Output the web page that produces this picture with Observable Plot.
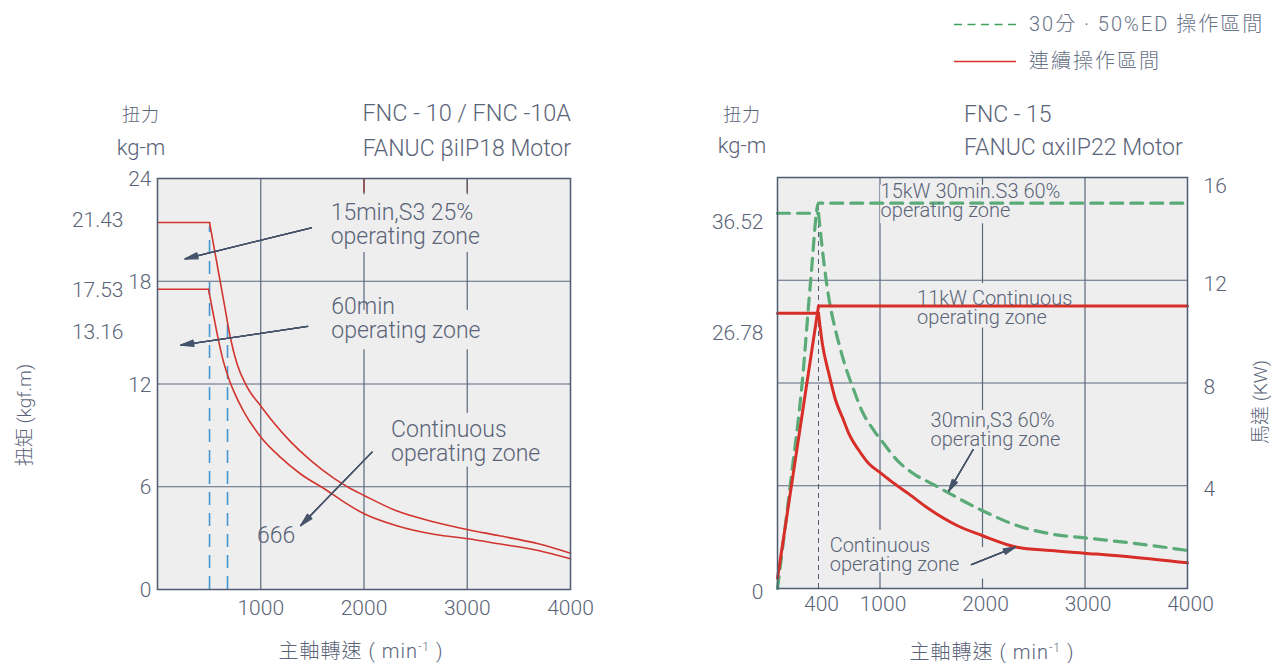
<!DOCTYPE html>
<html>
<head>
<meta charset="utf-8">
<script src="https://cdn.jsdelivr.net/npm/d3@7"></script>
<script src="https://cdn.jsdelivr.net/npm/@observablehq/plot@0.6"></script>
<style>
  body { margin: 0; background: #ffffff; }
  #wrap { position: relative; width: 1271px; height: 663px; overflow: hidden;
          font-family: Roboto, "Noto Sans CJK TC", sans-serif; font-weight: 300; color: #5a6478; }
  .t { position: absolute; white-space: nowrap; line-height: 1; }
  .t sup { font-size: 0.6em; vertical-align: 0.55em; line-height: 0; }
  .plot { position: absolute; }
</style>
</head>
<body>
<div id="wrap"></div>
<script>
// ---------------- DATA ----------------
// Left chart: FNC-10 / FNC-10A, FANUC βiIP18 (torque kg-m vs rpm)
const left15Rpm    = [0, 504, 559, 608, 656, 705, 770, 866, 1002, 1124, 1286, 1480, 1706, 1868, 2001, 2308, 2691, 3009, 3302, 3688, 4000];
const left15Torque = [21.43, 21.43, 19.6, 17.96, 16.36, 14.73, 13.18, 11.85, 10.7, 9.75, 8.65, 7.55, 6.5, 5.9, 5.49, 4.61, 3.93, 3.49, 3.15, 2.67, 2.12];
const left60Rpm    = [0, 494, 543, 591, 640, 688, 737, 834, 1002, 1189, 1383, 1642, 1771, 2001, 2308, 2691, 3009, 3302, 3688, 4000];
const left60Torque = [17.53, 17.53, 16.0, 14.55, 13.28, 12.35, 11.6, 10.4, 8.89, 7.73, 6.76, 5.78, 5.25, 4.42, 3.74, 3.21, 2.96, 2.67, 2.28, 1.79];
const leftMarkerRpm = [504, 678];          // blue dashed verticals
const leftMarkerTop = [21.2, 15.7];
const leftXTicks = [1000, 2000, 3000, 4000];
const leftYTicks = [0, 6, 12, 18, 24];
const leftExtraTickLabels = ["21.43", "17.53", "13.16"];

// Right chart: FNC-15, FANUC αxiIP22 (torque kg-m on left axis, power kW on right axis)
const rightTorqueMax = 40;  // left axis top (kg-m)
const rightPowerMax = 16;   // right axis top (kW)
const rightGreenTorqueRpm = [0, 400, 454, 502, 551, 600, 665, 746, 828, 941, 1038, 1168, 1330, 1525, 1996, 2337, 2662, 2995, 3472, 4000];
const rightGreenTorque    = [36.52, 36.52, 31.6, 28.2, 25.76, 23.81, 21.53, 19.27, 17.2, 15.37, 14.08, 12.46, 11.16, 10.1, 7.59, 6.13, 5.32, 4.93, 4.41, 3.7];
const rightRedTorqueRpm   = [0, 400, 438, 502, 568, 633, 697, 795, 892, 996, 1120, 1281, 1476, 1752, 1996, 2337, 2662, 2995, 3472, 4000];
const rightRedTorque      = [26.78, 26.78, 23.8, 20.88, 18.29, 16.66, 15.05, 13.43, 12.14, 11.32, 10.35, 9.21, 7.76, 6.13, 5.16, 4.02, 3.7, 3.44, 3.05, 2.5];
const rightGreenPowerRpm  = [0, 130, 243, 324, 400, 4000];
const rightGreenPower     = [0, 4.2, 8.1, 12.0, 15, 15];
const rightRedPowerRpm    = [0, 400, 4000];
const rightRedPower       = [0.4, 11, 11];
const rightBaseRpm = 400;
const rightXTicks = [400, 1000, 2000, 3000, 4000];
const rightPowerTicks = [4, 8, 12, 16];
const rightTorqueTickLabels = ["36.52", "26.78", "0"];

// ---------------- STYLE ----------------
const FONT = 'Roboto, "Noto Sans CJK TC", sans-serif';
const TXT = "#5a6478";
const BG = "#eeeeee";
const GRID = "#5a687e";
const FRAME = "#4e5b71";
const RED = "#d2352f";
const RED2 = "#d72e28";
const GREEN = "#5aab78";
const BLUE = "#4496d2";
const ARROW = "#46546a";
const plain = d => String(d);

const pts = (xs, ys) => xs.map((x, i) => ({x, y: ys[i]}));
const wrap = document.getElementById("wrap");

function addText(html, x, y, o = {}) {
  const d = document.createElement("div");
  d.className = "t";
  d.innerHTML = html;
  d.style.left = x + "px";
  d.style.top = y + "px";
  d.style.fontSize = (o.size || 20) + "px";
  if (o.ls) d.style.letterSpacing = o.ls + "px";
  if (o.color) d.style.color = o.color;
  const tx = o.anchor === "end" ? "-100%" : o.anchor === "start" ? "0" : "-50%";
  d.style.transform = `translate(${tx},-50%)` + (o.rotate ? ` rotate(${o.rotate}deg)` : "");
  wrap.appendChild(d);
}

// filled-looking arrow heads: several arrow marks with narrowing head angles
function arrows(data, len) {
  return [28, 20, 12, 5].map(a =>
    Plot.arrow(data, {x1: "x1", y1: "y1", x2: "x2", y2: "y2", stroke: ARROW, strokeWidth: 1.3, headLength: len, headAngle: a}));
}

// ---------------- LEFT CHART ----------------
const l15 = pts(left15Rpm, left15Torque);
const l60 = pts(left60Rpm, left60Torque);
const leftMarkers = leftMarkerRpm.map((x, i) => ({x, top: leftMarkerTop[i]}));
const leftExtra = leftExtraTickLabels.map((label, i) => ({label, y: [21.55, 17.5, 15.0][i]}));

const leftPlot = Plot.plot({
  width: 620, height: 470,
  marginLeft: 157, marginRight: 50, marginTop: 18, marginBottom: 41,
  x: {domain: [0, 4000]},
  y: {domain: [0, 24]},
  style: {fontFamily: FONT, fontSize: "21px", color: TXT, background: "transparent", overflow: "visible", fontWeight: 300},
  marks: [
    Plot.frame({fill: BG}),
    Plot.gridX([1000, 2000, 3000], {stroke: GRID, strokeOpacity: 1, strokeWidth: 1.2}),
    Plot.gridY([6, 12, 18], {stroke: GRID, strokeOpacity: 1, strokeWidth: 1.2}),
    // label boxes that interrupt the grid
    Plot.rect([
      {x1: 1647, x2: 3149, y1: 19.68, y2: 23.05},
      {x1: 1647, x2: 3760, y1: 14.0, y2: 16.3},
      {x1: 2216, x2: 3770, y1: 7.14, y2: 10.28}
    ], {x1: "x1", x2: "x2", y1: "y1", y2: "y2", fill: BG}),
    Plot.ruleX([2000], {y1: 24, y2: 23.15, stroke: "#8e3b3b", strokeWidth: 1.4}),
    Plot.ruleX([3000], {y1: 24, y2: 23.15, stroke: "#6e5e62", strokeWidth: 1.4}),
    Plot.ruleX(leftMarkers, {x: "x", y1: 0, y2: "top", stroke: BLUE, strokeWidth: 1.6, strokeDasharray: "13,8"}),
    Plot.line(l15.slice(0, 2), {x: "x", y: "y", stroke: RED, strokeWidth: 1.6}),
    Plot.line(l15.slice(1), {x: "x", y: "y", stroke: RED, strokeWidth: 1.6, curve: "monotone-x"}),
    Plot.line(l60.slice(0, 2), {x: "x", y: "y", stroke: RED, strokeWidth: 1.6}),
    Plot.line(l60.slice(1), {x: "x", y: "y", stroke: RED, strokeWidth: 1.6, curve: "monotone-x"}),
    Plot.frame({stroke: FRAME, strokeWidth: 1.5}),
    Plot.axisX(leftXTicks, {tickSize: 0, tickPadding: 11, fontSize: 21, label: null, tickFormat: plain}),
    Plot.axisY(leftYTicks, {tickSize: 0, tickPadding: 6, dy: 1, fontSize: 21, label: null, tickFormat: plain}),
    Plot.text(leftExtra, {x: 0, y: "y", text: "label", textAnchor: "end", dx: -34, fontSize: 21, fill: TXT}),
    // annotations
    Plot.text([
      {x: 1677, y: 21.31, t: "15min,S3 25%\noperating zone"},
      {x: 1683, y: 15.82, t: "60min\noperating zone"},
      {x: 2262, y: 8.64, t: "Continuous\noperating zone"},
      {x: 963, y: 3.15, t: "666"}
    ], {x: "x", y: "y", text: "t", textAnchor: "start", fontSize: 23, lineHeight: 1.04, fill: TXT}),
    ...arrows([
      {x1: 1490, y1: 21.12, x2: 268, y2: 19.31},
      {x1: 1454, y1: 15.36, x2: 227, y2: 14.27},
      {x1: 2078, y1: 8.02, x2: 1388, y2: 3.74}
    ], 15)
  ]
});
leftPlot.classList.add("plot");
leftPlot.style.left = "0px";
leftPlot.style.top = "160px";
wrap.appendChild(leftPlot);

// ---------------- RIGHT CHART ----------------
const tk = rightPowerMax / rightTorqueMax; // torque (kg-m) -> right-axis units
const gT = pts(rightGreenTorqueRpm, rightGreenTorque);
const rT = pts(rightRedTorqueRpm, rightRedTorque);
const gP = pts(rightGreenPowerRpm, rightGreenPower);
const rP = pts(rightRedPowerRpm, rightRedPower);
const rightLeftLabels = rightTorqueTickLabels.map((label, i) => ({label, y: [14.26, 9.93, 0][i]}));

const rightPlot = Plot.plot({
  width: 571, height: 470,
  marginLeft: 77, marginRight: 84, marginTop: 17, marginBottom: 42,
  x: {domain: [0, 4000]},
  y: {domain: [0, rightPowerMax]},
  style: {fontFamily: FONT, fontSize: "21px", color: TXT, background: "transparent", overflow: "visible", fontWeight: 300},
  marks: [
    Plot.frame({fill: BG}),
    Plot.gridX([1000, 2000, 3000], {stroke: GRID, strokeOpacity: 1, strokeWidth: 1.2}),
    Plot.gridY([4, 8, 12], {stroke: GRID, strokeOpacity: 1, strokeWidth: 1.2}),
    Plot.rect([
      {x1: 1006, x2: 2593, y1: 14.2, y2: 15.7},
      {x1: 1337, x2: 2836, y1: 10.14, y2: 11.87},
      {x1: 1473, x2: 2797, y1: 5.49, y2: 6.93},
      {x1: 490, x2: 1493, y1: 0.62, y2: 2.26},
      {x1: 1935, x2: 2065, y1: 0.37, y2: 1.6}
    ], {x1: "x1", x2: "x2", y1: "y1", y2: "y2", fill: BG}),
    Plot.ruleX([rightBaseRpm], {y1: 0, y2: 15, stroke: FRAME, strokeWidth: 1, strokeDasharray: "5,4"}),
    Plot.line(gP, {x: "x", y: "y", stroke: GREEN, strokeWidth: 3.2, strokeDasharray: "12,8", curve: "monotone-x"}),
    Plot.line(gT.slice(0, 2), {x: "x", y: d => d.y * tk, stroke: GREEN, strokeWidth: 3.2, strokeDasharray: "12,8"}),
    Plot.line(gT.slice(1), {x: "x", y: d => d.y * tk, stroke: GREEN, strokeWidth: 3.2, strokeDasharray: "12,8", curve: "monotone-x"}),
    Plot.line(rP, {x: "x", y: "y", stroke: RED2, strokeWidth: 3}),
    Plot.line(rT.slice(0, 2), {x: "x", y: d => d.y * tk, stroke: RED2, strokeWidth: 3}),
    Plot.line(rT.slice(1), {x: "x", y: d => d.y * tk, stroke: RED2, strokeWidth: 3, curve: "monotone-x"}),
    Plot.frame({stroke: FRAME, strokeWidth: 1.5}),
    Plot.axisX(rightXTicks, {tickSize: 0, tickPadding: 8, dx: 3, fontSize: 21, label: null, tickFormat: plain}),
    Plot.axisY(rightPowerTicks.filter(v => v < 16), {anchor: "right", tickSize: 0, tickPadding: 16, dy: 4, fontSize: 21, label: null, tickFormat: plain}),
    Plot.axisY(rightPowerTicks.filter(v => v === 16), {anchor: "right", tickSize: 0, tickPadding: 16, dy: 9, fontSize: 21, label: null, tickFormat: plain}),
    Plot.text(rightLeftLabels.slice(0, 2), {x: 0, y: "y", text: "label", textAnchor: "end", dx: -14, fontSize: 21, fill: TXT}),
    Plot.text(rightLeftLabels.slice(2), {x: 0, y: "y", text: "label", textAnchor: "end", dx: -14, dy: 4, fontSize: 21, fill: TXT}),
    Plot.text([
      {x: 1006, y: 15.06, t: "15kW 30min.S3 60%\noperating zone"},
      {x: 1362, y: 10.92, t: "11kW Continuous\noperating zone"},
      {x: 1493, y: 6.15, t: "30min,S3 60%\noperating zone"},
      {x: 509, y: 1.3, t: "Continuous\noperating zone"}
    ], {x: "x", y: "y", text: "t", textAnchor: "start", fontSize: 20, lineHeight: 0.96, fill: TXT}),
    ...arrows([
      {x1: 1908, y1: 5.4, x2: 1671, y2: 3.79},
      {x1: 1892, y1: 0.93, x2: 2320, y2: 1.61}
    ], 14)
  ]
});
rightPlot.classList.add("plot");
rightPlot.style.left = "700px";
rightPlot.style.top = "160px";
wrap.appendChild(rightPlot);

// ---------------- TEXTS ----------------
addText("扭力", 141, 115, {size: 18, ls: 1});
addText("kg-m", 141, 148, {size: 22});
addText("FNC - 10 / FNC -10A", 571, 114, {size: 23.5, anchor: "end"});
addText("FANUC βiIP18 Motor", 571, 148, {size: 23, anchor: "end"});

addText("扭力", 742, 115, {size: 18, ls: 1});
addText("kg-m", 742, 146, {size: 22});
addText("FNC - 15", 964, 114, {size: 23, anchor: "start"});
addText("FANUC αxiIP22 Motor", 964, 147, {size: 23, anchor: "start"});

addText("扭矩 (kgf.m)", 24, 415, {size: 19, rotate: -90});
addText("馬達 (KW)", 1260, 402, {size: 19, rotate: -90});
addText("主軸轉速 ( min<sup>-1</sup> )", 361, 651, {size: 20, ls: 1});
addText("主軸轉速 ( min<sup>-1</sup> )", 992, 652, {size: 20, ls: 1});

// legend
const lg = document.createElementNS("http://www.w3.org/2000/svg", "svg");
lg.setAttribute("width", "70"); lg.setAttribute("height", "70");
lg.style.position = "absolute"; lg.style.left = "952px"; lg.style.top = "0px";
lg.innerHTML = `<line x1="2" x2="64" y1="24.5" y2="24.5" stroke="#3fa35e" stroke-width="1.4" stroke-dasharray="8,5.5"/>
<line x1="2" x2="64" y1="61.5" y2="61.5" stroke="#d8322b" stroke-width="1.6"/>`;
wrap.appendChild(lg);
addText("30分 · 50%ED 操作區間", 1029, 24, {size: 20, ls: 2, anchor: "start", color: "#687286"});
addText("連續操作區間", 1029, 61, {size: 20, ls: 2, anchor: "start", color: "#687286"});
</script>
</body>
</html>
